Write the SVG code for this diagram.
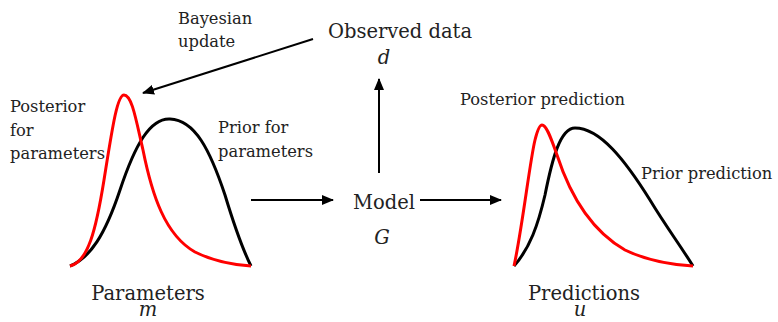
<svg xmlns="http://www.w3.org/2000/svg" width="778" height="322" viewBox="0 0 778 322">
<style>
text{font-family:'DejaVu Serif','Liberation Serif',serif;fill:#222}
.s{font-size:16.3px}
.b{font-size:19.5px}
.i{font-style:italic}
.cb{fill:none;stroke:#000;stroke-width:3}
.cr{fill:none;stroke:#f00;stroke-width:3}
.a{fill:none;stroke:#000;stroke-width:2}
</style>
<defs>
<marker id="ah" viewBox="0 0 12 10" refX="11" refY="5" markerWidth="12" markerHeight="10" markerUnits="userSpaceOnUse" orient="auto">
<path d="M0,0 L12,5 L0,10 Z" fill="#000"/>
</marker>
</defs>
<g id="parameters">
<path class="cb" d="M70,266 C90,258 105,235 120,190 C135,145 150,118 170,119 C195,120 210,150 225,195 C235,228 243,250 251,266"/>
<path class="cr" d="M70,266 C88,262 96,230 104,180 C112,130 117,95 124,95 C132,95 136,120 143,150 C152,195 165,235 195,252 C215,262 235,265 251,266"/>
<text class="s" x="10" y="112">Posterior</text>
<text class="s" x="10" y="136">for</text>
<text class="s" x="10" y="159">parameters</text>
<text class="s" x="218" y="133">Prior for</text>
<text class="s" x="218" y="157">parameters</text>
<text class="b" x="148" y="300" text-anchor="middle">Parameters</text>
<text class="b i" x="148" y="316" text-anchor="middle">m</text>
</g>
<g id="predictions">
<path class="cb" d="M514,266 C530,248 538,225 545,195 C552,160 560,128 575,128 C600,128 625,160 650,200 C665,225 680,245 693,266"/>
<path class="cr" d="M514,266 C522,230 530,160 535,140 C538,128 540,125 542,125 C546,125 550,135 557,155 C570,195 590,230 625,250 C650,262 675,265 693,266"/>
<text class="s" x="460" y="105">Posterior prediction</text>
<text class="s" x="641" y="179">Prior prediction</text>
<text class="b" x="584" y="300" text-anchor="middle">Predictions</text>
<text class="b i" x="580" y="316" text-anchor="middle">u</text>
</g>
<g id="model">
<text class="b" x="384" y="209" text-anchor="middle">Model</text>
<text class="b i" x="382" y="244" text-anchor="middle">G</text>
</g>
<g id="observed">
<text class="b" x="400" y="38" text-anchor="middle">Observed data</text>
<text class="b i" x="384" y="64" text-anchor="middle">d</text>
</g>
<g id="connectors">
<line class="a" x1="251" y1="200" x2="333" y2="200" marker-end="url(#ah)"/>
<line class="a" x1="420" y1="200" x2="501" y2="200" marker-end="url(#ah)"/>
<line class="a" x1="379" y1="173" x2="379" y2="79" marker-end="url(#ah)"/>
<line class="a" x1="313" y1="39" x2="143" y2="93" marker-end="url(#ah)"/>
<text class="s" x="178" y="24">Bayesian</text>
<text class="s" x="178" y="47">update</text>
</g>
</svg>
